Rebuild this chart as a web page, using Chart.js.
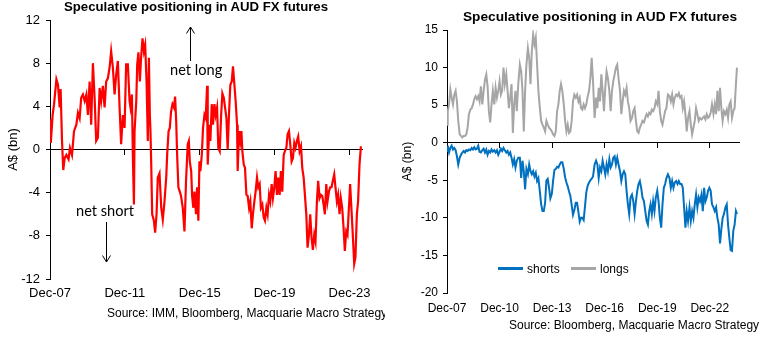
<!DOCTYPE html>
<html><head><meta charset="utf-8">
<script src="https://cdn.jsdelivr.net/npm/chart.js@4.4.1/dist/chart.umd.min.js"></script>
<style>
html,body{margin:0;padding:0;background:#fff;}
#wrap{position:relative;width:770px;height:346px;overflow:hidden;font-family:"Liberation Sans",Arial,sans-serif;color:#000;}
canvas{position:absolute;top:0;}
.t{position:absolute;white-space:nowrap;}
.note{font-family:Lato,"Open Sans",sans-serif;font-size:14.6px;line-height:16px;}
.leg{position:absolute;top:261px;font-size:12px;line-height:16px;white-space:nowrap;}
.leg span.sw{display:inline-block;width:25px;height:3px;vertical-align:middle;margin-right:4px;position:relative;top:-1px;}
</style></head><body>
<div id="wrap">
<canvas id="c1" width="385" height="346" style="left:0"></canvas>
<canvas id="c2" width="385" height="346" style="left:385px"></canvas>
<div class="t" style="left:0;width:392px;text-align:center;top:-1px;font-weight:bold;font-size:13.2px;line-height:16px">Speculative positioning in AUD FX futures</div>
<div class="t" style="left:430px;width:340px;text-align:center;top:9px;font-weight:bold;font-size:13.7px;line-height:16px">Speculative positioning in AUD FX futures</div>
<div class="t note" style="left:170px;top:62px">net long</div>
<div class="t note" style="left:76px;top:203px">net short</div>
<svg style="position:absolute;left:0;top:0" width="385" height="346">
<path d="M190.5 61 V27 M186.5 33.5 L190.5 27 L194.5 33.5" stroke="#000" stroke-width="1" fill="none"/>
<path d="M106.5 222 V262 M102.5 255.5 L106.5 262 L110.5 255.5" stroke="#000" stroke-width="1" fill="none"/>
</svg>
<div class="t" style="left:107px;top:306px;width:278px;overflow:hidden;font-size:12px;line-height:15px">Source: IMM, Bloomberg, Macquarie Macro Strategy</div>
<div class="t" style="left:509px;top:318px;font-size:12px;line-height:15px">Source: Bloomberg, Macquarie Macro Strategy</div>
<div id="legend"></div>
</div>
<script>
// ---------- Left chart: net speculative positioning (A$ bn), x = months since Dec-07 ----------
const leftTickMonths = [0, 48, 96, 144, 192];
const leftTickLabels = ['Dec-07', 'Dec-11', 'Dec-15', 'Dec-19', 'Dec-23'];
const leftYTicks = [-12, -8, -4, 0, 4, 8, 12];

const netMonths = [
 0, 0.5, 1.7, 2.6, 4.1, 5.1, 6.2, 6.8, 7.7, 8.5, 9.4, 10.5, 11.9, 12.8, 14.1, 15.4, 16.9, 17.9, 19.0, 20.0,
 21.1, 22.2, 23.3, 24.3, 25.4, 26.4, 27.5, 28.6, 29.6, 30.7, 31.8, 32.8, 33.9, 35.0, 36.0, 37.1, 38.2, 39.2, 40.3, 41.4,
 42.4, 43.5, 44.6, 45.6, 46.7, 47.8, 48.8,
 49.9, 51.0, 51.6, 52.5, 53.1, 53.8, 54.2, 55.3, 55.9, 56.7, 57.6, 58.4, 59.3, 60.2, 61.0, 61.9, 62.7, 63.4, 64.0, 64.4,
 64.9, 65.5, 66.6, 67.4, 68.3, 69.1, 70.2, 71.3, 72.3, 73.4, 74.5, 75.1, 76.0, 76.8, 77.6, 78.5, 79.4, 80.2, 80.9, 81.5,
 82.3, 83.2, 84.0, 85.1, 86.2, 87.2, 88.3, 89.0, 89.6, 90.5, 91.1, 91.9, 92.6, 93.6, 94.3, 95.1, 95.8, 96.4, 97.3, 98.1,
 99.0, 99.8, 100.7,
 101.1, 102.2, 102.8, 103.7, 104.5, 105.4, 106.2, 107.1, 107.9, 108.8, 109.7, 110.5, 111.4, 112.2, 113.1, 113.9, 114.8, 115.6, 116.5, 117.3,
 118.2, 119.0, 119.9, 120.3, 121.2, 122.0, 122.7, 123.3, 124.2, 125.0, 125.9, 126.7, 127.6, 128.4, 129.3, 130.1, 131.0, 131.8, 132.7, 133.5,
 134.4, 135.2, 136.1, 137.0, 137.8, 138.7, 139.5, 140.4, 141.2, 142.1, 142.9, 143.8, 144.6, 145.5, 146.3, 147.2, 148.0, 148.9, 149.8, 150.6,
 151.5,
 152.3, 153.2, 154.0, 154.9, 155.7, 156.6, 157.4, 158.3, 159.1, 160.0, 160.9, 161.7, 162.6, 163.4, 164.3, 165.1, 166.0, 166.8, 167.7, 168.5,
 169.4, 170.2, 171.1, 171.9, 172.8, 173.6, 174.5, 175.4, 176.2, 177.1, 177.9, 178.8, 179.6, 180.5, 181.3, 182.2, 183.0, 183.9, 184.7, 185.6,
 186.4, 187.3, 188.2, 189.0, 189.9, 190.7, 191.6, 192.4, 193.3, 194.1, 195.0, 195.8, 196.7, 197.5, 198.4, 199.3
];
const netValues = [
 2.8, 0.6, 3.2, 4.2, 6.5, 6.0, 3.9, 5.6, 0.8, -1.9, -0.8, -0.5, -0.9, 0.15, -0.5, 1.7, 2.3, 3.4, 2.9, 4.8,
 5.1, 4.5, 5.1, 3.2, 6.3, 2.3, 8.0, 4.8, 0.8, 1.1, 5.7, 4.5, 5.9, 3.9, 6.3, 6.6, 7.6, 9.1, 7.6, 5.1,
 6.9, 8.2, 3.9, 0.5, 3.2, 2.0, 7.9,
 7.9, 4.5, 3.9, 5.1, -0.5, -5.1, 1.7, 4.5, 7.9, 9.0, 6.3, 8.5, 10.3, 9.1, 9.7, 6.3, 0.8, 8.5, 3.2, 1.7,
 -1.4, -6.0, -6.6, -7.7, -6.0, -2.6, -2.2, -5.4, -6.5, -4.8, -2.6, -0.5, 1.7, 2.0, 3.5, 4.2, 3.9, 4.9, 2.6, -0.5,
 -3.5, -3.9, -4.3, -5.4, -7.6, -2.9, 0.5, 0.8, -1.1, -2.0, -4.3, -5.4, -3.9, -6.0, -3.5, -6.6, -1.1, -2.0, -0.5, 2.0,
 3.2, 2.9, 5.9,
 -1.4, 2.3, 0.8, 4.2, 2.3, 4.2, 3.2, 3.9, 0.15, -0.15, 3.2, 5.2, 4.8, 3.9, 2.9, 0, 3.5, 6.0, 6.3, 7.7,
 6.0, 4.5, 2.3, -2.0, 1.7, 0.8, 1.7, -0.15, -1.4, -1.7, -4.2, -4.3, -5.4, -4.8, -7.3, -6.0, -4.8, -3.9, -2.6, -3.5,
 -3.2, -5.4, -5.1, -6.3, -6.6, -5.4, -6.0, -4.2, -4.8, -3.2, -4.5, -3.5, -2.0, -4.2, -2.6, -4.2, -2.0, -3.9, -0.5, -0.15,
 0.15,
 1.4, 1.7, 0.5, -1.1, -0.8, 0.6, 0.15, 0.8, 1.2, -0.15, 0.3, -1.7, -2.6, -4.2, -6.0, -9.1, -7.9, -6.0, -8.2, -9.3,
 -7.9, -8.5, -4.8, -2.9, -4.5, -4.2, -4.3, -5.1, -6.0, -3.2, -4.8, -3.9, -3.5, -3.5, -2.9, -2.3, -3.5, -4.8, -4.2, -6.0,
 -4.5, -5.4, -7.3, -9.4, -7.6, -7.9, -5.4, -3.2, -5.7, -7.9, -10.6, -10.0, -6.0, -4.8, -1.4, 0.3
];

// ---------- Right chart: longs and shorts (A$ bn), x = months since Dec-07 ----------
const rightTickMonths = [0, 36, 72, 108, 144, 180];
const rightTickLabels = ['Dec-07', 'Dec-10', 'Dec-13', 'Dec-16', 'Dec-19', 'Dec-22'];
const rightYTicks = [-20, -15, -10, -5, 0, 5, 10, 15];
const seriesNames = ['shorts', 'longs'];
const seriesColors = ['#0070C0', '#A6A6A6'];

const posMonths = [
 0, 0.5, 1.4, 2.3, 3.2, 4.1, 5.0, 5.9, 6.8, 7.7, 8.7, 9.6, 10.5, 11.4, 12.3, 13.2, 14.1, 15.0, 16.0, 16.9,
 17.8, 18.7, 19.6, 20.5, 21.4, 22.3, 23.2, 24.2, 25.1, 26.0, 26.9, 27.8, 28.7, 29.6, 30.5, 31.4, 32.4, 33.3, 34.2, 35.1,
 36.0, 36.9, 37.8, 38.7, 39.6, 40.6, 41.5, 42.4, 43.3, 44.2, 45.1, 46.0, 46.9, 47.8, 48.8,
 49.9, 50.8, 51.7, 52.6, 53.5, 54.4, 55.4, 56.3, 57.2, 58.1, 59.0, 59.9, 60.8, 61.7, 62.6, 63.6, 64.5, 65.4, 66.3, 67.2,
 68.1, 69.0, 69.9, 70.8, 71.8, 72.7, 73.6, 74.5, 75.4, 76.3, 77.2, 78.1, 79.0, 80.0, 80.9, 81.8, 82.7, 83.6, 84.5, 85.4,
 86.3, 87.2, 88.2, 89.1, 90.0, 90.9, 91.8, 92.7, 93.6, 94.5, 95.4, 96.4, 97.3, 98.2, 99.1, 100.0,
 101.1, 102.1, 103.0, 103.9, 104.8, 105.7, 106.6, 107.5, 108.4, 109.3, 110.2, 111.2, 112.1, 113.0, 113.9, 114.8, 115.7, 116.6, 117.5, 118.5,
 119.4, 120.3, 121.2, 122.1, 123.0, 123.9, 124.8, 125.7, 126.7, 127.6, 128.5, 129.4, 130.3, 131.2, 132.1, 133.0, 133.9, 134.9, 135.8, 136.7,
 137.6, 138.5, 139.4, 140.3, 141.2, 142.1, 143.0, 144.0, 144.9, 145.8, 146.7, 147.6, 148.5, 149.4, 150.3, 151.3,
 152.4, 153.3, 154.2, 155.1, 156.0, 157.0, 157.9, 158.8, 159.7, 160.6, 161.5, 162.4, 163.3, 164.2, 165.1, 166.1, 167.0, 167.9, 168.8, 169.7,
 170.6, 171.5, 172.4, 173.3, 174.3, 175.2, 176.1, 177.0, 177.9, 178.8, 179.7, 180.6, 181.5, 182.5, 183.4, 184.3, 185.2, 186.1, 187.0, 187.9,
 188.8, 189.7, 190.7, 191.6, 192.5, 193.4, 194.3, 195.2, 196.1, 197.0, 197.9, 198.6
];
const longValues = [
 2.4, 4.2, 5.1, 7.1, 6.0, 5.1, 6.4, 6.9, 5.5, 2.9, 1.1, 0.9, 0.7, 0.9, 0.9, 1.1, 2.0, 3.8, 4.4, 4.6,
 5.1, 5.8, 6.2, 5.8, 6.2, 5.5, 7.5, 5.1, 6.9, 8.4, 9.1, 7.5, 4.2, 2.7, 5.1, 6.9, 5.1, 7.3, 6.0, 6.9,
 8.2, 6.4, 6.9, 10.0, 7.8, 9.1, 6.9, 4.6, 6.0, 7.8, 1.3, 5.1, 6.9, 4.2, 7.8,
 10.4, 9.5, 6.9, 1.5, 6.9, 10.4, 12.6, 11.3, 7.8, 12.2, 14.4, 13.1, 14.0, 10.4, 6.9, 4.6, 2.9, 2.4, 2.0, 1.5,
 2.9, 2.4, 2.0, 1.8, 1.5, 1.1, 0.9, 1.5, 4.2, 5.1, 6.9, 7.8, 6.9, 5.1, 2.9, 1.5, 2.4, 1.3, 1.5, 2.9,
 5.5, 6.4, 6.0, 6.4, 5.5, 6.0, 4.6, 4.4, 5.1, 4.6, 5.1, 6.2, 6.9, 8.6, 11.3, 8.2,
 3.3, 6.0, 4.6, 7.3, 5.5, 9.1, 6.9, 4.2, 7.3, 9.5, 8.6, 6.9, 4.2, 6.9, 8.2, 9.1, 10.0, 10.4, 8.6, 6.9,
 3.8, 5.5, 6.9, 6.4, 7.3, 5.5, 4.6, 2.9, 3.3, 4.2, 4.6, 2.9, 1.5, 1.3, 2.0, 2.4, 2.9, 2.7, 3.3, 3.8,
 3.5, 4.0, 3.8, 4.4, 4.2, 4.6, 5.5, 5.1, 6.9, 4.2, 2.9, 2.4, 3.3, 4.2, 4.6, 6.4,
 6.2, 5.5, 6.4, 5.1, 6.0, 6.4, 6.2, 6.6, 6.0, 6.2, 4.6, 5.5, 3.8, 1.5, 3.3, 4.2, 2.4, 1.1, 2.0, 2.9,
 4.6, 3.8, 2.9, 3.3, 3.1, 3.3, 3.5, 3.1, 3.8, 3.3, 3.5, 4.0, 5.1, 3.8, 5.1, 3.8, 6.9, 4.2, 7.3, 4.6,
 2.9, 4.2, 3.8, 4.4, 3.3, 5.1, 5.5, 3.3, 4.2, 4.6, 7.8, 10.0
];
const shortValues = [
 -1.1, -0.4, -1.3, -0.7, -0.4, -0.9, -0.7, -1.0, -1.8, -2.9, -2.0, -1.6, -1.3, -1.1, -1.3, -1.0, -1.1, -0.9, -1.0, -0.7,
 -0.9, -0.6, -0.9, -0.8, -0.4, -1.2, -1.3, -1.0, -0.8, -1.3, -0.9, -1.6, -1.1, -1.3, -0.9, -1.2, -1.0, -1.3, -1.0, -1.6,
 -1.2, -0.8, -1.1, -0.7, -1.0, -1.3, -1.1, -1.6, -1.3, -2.0, -2.9, -2.2, -3.3, -2.4, -2.0,
 -2.0, -4.7, -2.4, -3.8, -6.2, -3.5, -4.2, -2.9, -3.8, -4.2, -3.8, -4.5, -4.0, -5.1, -4.7, -6.5, -8.2, -9.1, -9.1, -8.0,
 -5.0, -4.8, -6.0, -7.4, -6.8, -5.0, -3.6, -3.5, -3.2, -3.3, -2.9, -2.6, -2.6, -3.5, -4.6, -5.3, -5.8, -6.5, -7.1, -8.3,
 -9.6, -9.0, -8.0, -8.0, -9.2, -10.5, -10.0, -10.0, -10.3, -8.5, -6.6, -5.7, -5.3, -5.0, -4.8, -4.5,
 -2.9, -2.4, -2.9, -4.7, -3.3, -3.8, -2.4, -3.3, -4.2, -2.9, -3.8, -2.2, -3.3, -2.9, -2.0, -1.8, -2.9, -2.0, -2.9, -3.8,
 -5.1, -4.2, -3.8, -4.2, -6.4, -8.2, -9.5, -7.3, -6.9, -7.8, -9.5, -7.8, -6.4, -5.5, -5.1, -6.0, -7.3, -7.8, -9.1, -10.4,
 -10.9, -9.1, -8.2, -9.5, -7.8, -9.1, -7.3, -6.4, -7.8, -10.0, -11.3, -8.2, -6.0, -5.5, -4.7, -4.2,
 -4.7, -6.0, -5.1, -6.0, -5.3, -5.1, -5.5, -5.1, -5.5, -5.5, -6.0, -8.6, -11.3, -9.1, -10.4, -8.6, -10.4, -9.1, -10.0, -8.2,
 -6.9, -8.6, -7.3, -7.8, -6.9, -9.1, -6.0, -7.8, -7.3, -6.4, -6.0, -6.4, -8.2, -8.6, -9.1, -8.6, -10.0, -10.9, -13.4, -11.5,
 -10.0, -9.5, -8.6, -8.2, -10.9, -12.7, -14.3, -14.4, -11.7, -10.9, -9.1, -9.5
];

if (netMonths.length !== netValues.length) throw new Error('net length ' + netMonths.length + ' vs ' + netValues.length);
if (posMonths.length !== longValues.length || posMonths.length !== shortValues.length)
  throw new Error('pos length ' + posMonths.length + ' ' + longValues.length + ' ' + shortValues.length);

Chart.defaults.font.family = '"Liberation Sans", Arial, sans-serif';
Chart.defaults.color = '#000';

function setTicks(values) { return s => { s.ticks = values.map(v => ({ value: v })); }; }
function labelFrom(values, labels) { return v => { const i = values.indexOf(v); return i >= 0 ? labels[i] : ''; }; }
const noLegend = { legend: { display: false }, tooltip: { enabled: false } };

// Left chart
new Chart(document.getElementById('c1'), {
  type: 'line',
  data: { datasets: [{
    data: netMonths.map((m, i) => ({ x: m, y: netValues[i] })),
    borderColor: '#FF0000', borderWidth: 2.2, pointRadius: 0, tension: 0, fill: false
  }] },
  options: {
    responsive: false, animation: false, devicePixelRatio: 1,
    layout: { padding: { left: 0, top: 20, right: 23, bottom: 37 } },
    plugins: noLegend,
    scales: {
      x: { type: 'linear', min: 0, max: 200, position: 'bottom',
        border: { display: false }, grid: { display: false, drawTicks: false },
        afterBuildTicks: setTicks(leftTickMonths),
        afterFit: s => { s.height = 30; },
        ticks: { autoSkip: false, maxRotation: 0, padding: 7, font: { size: 13 },
          callback: labelFrom(leftTickMonths, leftTickLabels) } },
      x0: { type: 'linear', axis: 'x', min: 0, max: 200, position: { y: 0 },
        border: { display: true, color: '#000', width: 1 },
        grid: { display: true, drawOnChartArea: false, drawTicks: true, tickLength: 5, color: '#000' },
        afterBuildTicks: setTicks(leftTickMonths),
        ticks: { display: false } },
      y: { type: 'linear', min: -12, max: 12, position: 'left',
        border: { display: true, color: '#000', width: 1 },
        grid: { drawOnChartArea: false, drawTicks: true, tickLength: 4, color: '#000' },
        afterBuildTicks: setTicks(leftYTicks),
        afterFit: s => { s.width = 50; },
        ticks: { padding: 6, font: { size: 13 } },
        title: { display: true, text: 'A$ (bn)', font: { size: 13 }, padding: { top: 6, bottom: 0 } } }
    }
  }
});

// Right chart
new Chart(document.getElementById('c2'), {
  type: 'line',
  data: { datasets: [
    { label: seriesNames[0], data: posMonths.map((m, i) => ({ x: m, y: shortValues[i] })),
      borderColor: seriesColors[0], borderWidth: 2, pointRadius: 0, tension: 0, fill: false },
    { label: seriesNames[1], data: posMonths.map((m, i) => ({ x: m, y: longValues[i] })),
      borderColor: seriesColors[1], borderWidth: 2, pointRadius: 0, tension: 0, fill: false }
  ] },
  options: {
    responsive: false, animation: false, devicePixelRatio: 1,
    layout: { padding: { left: 0, top: 30, right: 31, bottom: 23 } },
    plugins: noLegend,
    scales: {
      x: { type: 'linear', min: 0, max: 200, position: 'bottom',
        border: { display: false }, grid: { display: false, drawTicks: false },
        afterBuildTicks: setTicks(rightTickMonths),
        afterFit: s => { s.height = 30; },
        ticks: { autoSkip: false, maxRotation: 0, padding: 8, font: { size: 12 },
          callback: labelFrom(rightTickMonths, rightTickLabels) } },
      x0: { type: 'linear', axis: 'x', min: 0, max: 200, position: { y: 0 },
        border: { display: true, color: '#000', width: 1 },
        grid: { display: true, drawOnChartArea: false, drawTicks: true, tickLength: 5, color: '#000' },
        afterBuildTicks: setTicks(rightTickMonths),
        ticks: { display: false } },
      y: { type: 'linear', min: -20, max: 15, position: 'left',
        border: { display: true, color: '#000', width: 1 },
        grid: { drawOnChartArea: false, drawTicks: true, tickLength: 4, color: '#000' },
        afterBuildTicks: setTicks(rightYTicks),
        afterFit: s => { s.width = 62; },
        ticks: { padding: 5, font: { size: 12 } },
        title: { display: true, text: 'A$ (bn)', font: { size: 12 }, padding: { top: 15.5, bottom: 0 } } }
    }
  }
});

// Legend (right chart)
const legendPos = [498, 571];
const legend = document.getElementById('legend');
seriesNames.forEach((name, i) => {
  const d = document.createElement('div');
  d.className = 'leg';
  d.style.left = legendPos[i] + 'px';
  d.innerHTML = '<span class="sw" style="background:' + seriesColors[i] + '"></span>' + name;
  legend.appendChild(d);
});
</script>
</body></html>
